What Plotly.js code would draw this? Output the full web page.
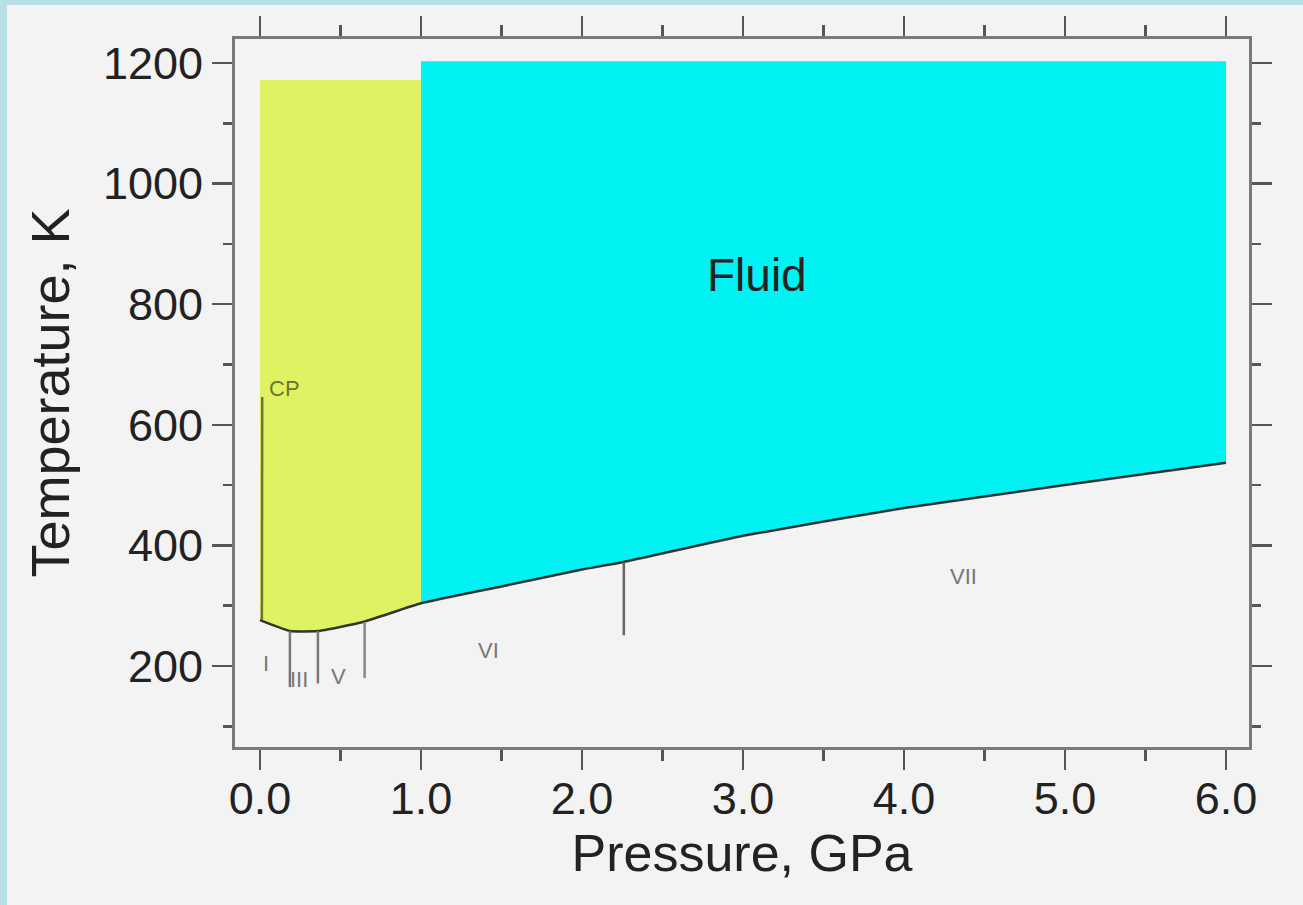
<!DOCTYPE html>
<html>
<head>
<meta charset="utf-8">
<script src="https://cdn.plot.ly/plotly-3.0.1.min.js"></script>
<style>
  html, body { margin: 0; padding: 0; background: #b8dfe3; width: 1303px; height: 905px; overflow: hidden; }
  #chart { position: absolute; left: 7px; top: 5px; width: 1296px; height: 900px; background: #f3f3f3; }
</style>
</head>
<body>
<div id="chart"></div>
<script>
// Melting curve (liquid/fluid boundary with the ices), P in GPa, T in K
const meltP = [0.0, 0.186, 0.36, 0.64, 1.0, 1.5, 2.0, 2.25, 3.0, 4.0, 5.0, 6.0];
const meltT = [276, 258, 258, 273, 304, 332, 360, 372, 416, 462, 500, 537];

// Liquid (yellow) region below 1 GPa
const liquidP = [0.0, 1.0, 1.0, 0.64, 0.36, 0.186, 0.0, 0.0];
const liquidT = [1172, 1172, 304, 273, 258, 258, 276, 1172];

// Fluid (cyan) region from 1 to 6 GPa
const fluidP = [1.0, 6.0, 6.0, 5.0, 4.0, 3.0, 2.25, 2.0, 1.5, 1.0, 1.0];
const fluidT = [1203, 1203, 537, 500, 462, 416, 372, 360, 332, 304, 1203];

// Liquid-vapour line up to the critical point
const boilP = [0.012, 0.014];
const boilT = [276, 646];

// Solid-solid phase boundaries
const bIIII_P = [0.186, 0.186], bIIII_T = [258, 165];
const bIIIV_P = [0.36, 0.36],   bIIIV_T = [258, 171];
const bVVI_P  = [0.65, 0.65],   bVVI_T  = [273, 180];
const bVIVII_P = [2.26, 2.26],  bVIVII_T = [372, 251];

// Region labels
const labelText = ["Fluid", "CP", "I", "III", "V", "VI", "VII"];
const labelP    = [3.09, 0.15, 0.04, 0.24, 0.49, 1.42, 4.37];
const labelT    = [848, 661, 205, 178, 182, 225, 348];

const xTitle = "Pressure, GPa";
const yTitle = "Temperature, K";

const FONT = "Liberation Sans, Arial, sans-serif";

const traces = [
  { x: fluidP, y: fluidT, mode: "lines", fill: "toself", fillcolor: "#00f2f2",
    line: { width: 0, color: "#00f2f2" }, hoverinfo: "skip", showlegend: false },
  { x: liquidP, y: liquidT, mode: "lines", fill: "toself", fillcolor: "#dff262",
    line: { width: 0, color: "#dff262" }, hoverinfo: "skip", showlegend: false },
  { x: meltP, y: meltT, mode: "lines", line: { width: 2.5, color: "#333333", shape: "spline", smoothing: 0.4 },
    hoverinfo: "skip", showlegend: false },
  { x: boilP, y: boilT, mode: "lines", line: { width: 2.5, color: "#6e7430" },
    hoverinfo: "skip", showlegend: false },
  { x: bIIII_P, y: bIIII_T, mode: "lines", line: { width: 2.5, color: "#777777" }, hoverinfo: "skip", showlegend: false },
  { x: bIIIV_P, y: bIIIV_T, mode: "lines", line: { width: 2.5, color: "#777777" }, hoverinfo: "skip", showlegend: false },
  { x: bVVI_P, y: bVVI_T, mode: "lines", line: { width: 2.5, color: "#888888" }, hoverinfo: "skip", showlegend: false },
  { x: bVIVII_P, y: bVIVII_T, mode: "lines", line: { width: 2.5, color: "#666666" }, hoverinfo: "skip", showlegend: false }
];

const annotations = labelText.map((t, i) => ({
  x: labelP[i], y: labelT[i], xref: "x", yref: "y", text: t, showarrow: false,
  font: i === 0 ? { family: FONT, size: 46, color: "#222222" }
       : (i === 1 ? { family: FONT, size: 22, color: "#6e7430" }
                  : { family: FONT, size: 22, color: "#777777" })
}));

const axisCommon = {
  showgrid: false, zeroline: false, showline: true, linecolor: "#7a7a7a", linewidth: 3,
  mirror: "ticks", ticks: "outside", ticklen: 20, tickwidth: 2.5, tickcolor: "#555555",
  tickfont: { family: FONT, size: 45, color: "#222222" }
};

const layout = {
  width: 1296, height: 900,
  paper_bgcolor: "#f3f3f3", plot_bgcolor: "#f3f3f3",
  margin: { l: 228, r: 54, t: 34, b: 158 },
  showlegend: false,
  xaxis: Object.assign({}, axisCommon, {
    range: [-0.155, 6.143], tick0: 0, dtick: 1, tickformat: ".1f",
    ticklabelstandoff: -10,
    minor: { dtick: 0.5, ticks: "outside", ticklen: 11, tickwidth: 2.5, tickcolor: "#555555", showgrid: false },
    title: { text: xTitle, font: { family: FONT, size: 52, color: "#222222" }, standoff: 0 }
  }),
  yaxis: Object.assign({}, axisCommon, {
    range: [65.7, 1239.8], tick0: 0, dtick: 200,
    minor: { dtick: 100, ticks: "outside", ticklen: 9, tickwidth: 2.5, tickcolor: "#555555", showgrid: false },
    title: { text: yTitle, font: { family: FONT, size: 54, color: "#222222" }, standoff: 16 }
  }),
  annotations: annotations
};

Plotly.newPlot("chart", traces, layout, { displayModeBar: false, staticPlot: true });
</script>
</body>
</html>
